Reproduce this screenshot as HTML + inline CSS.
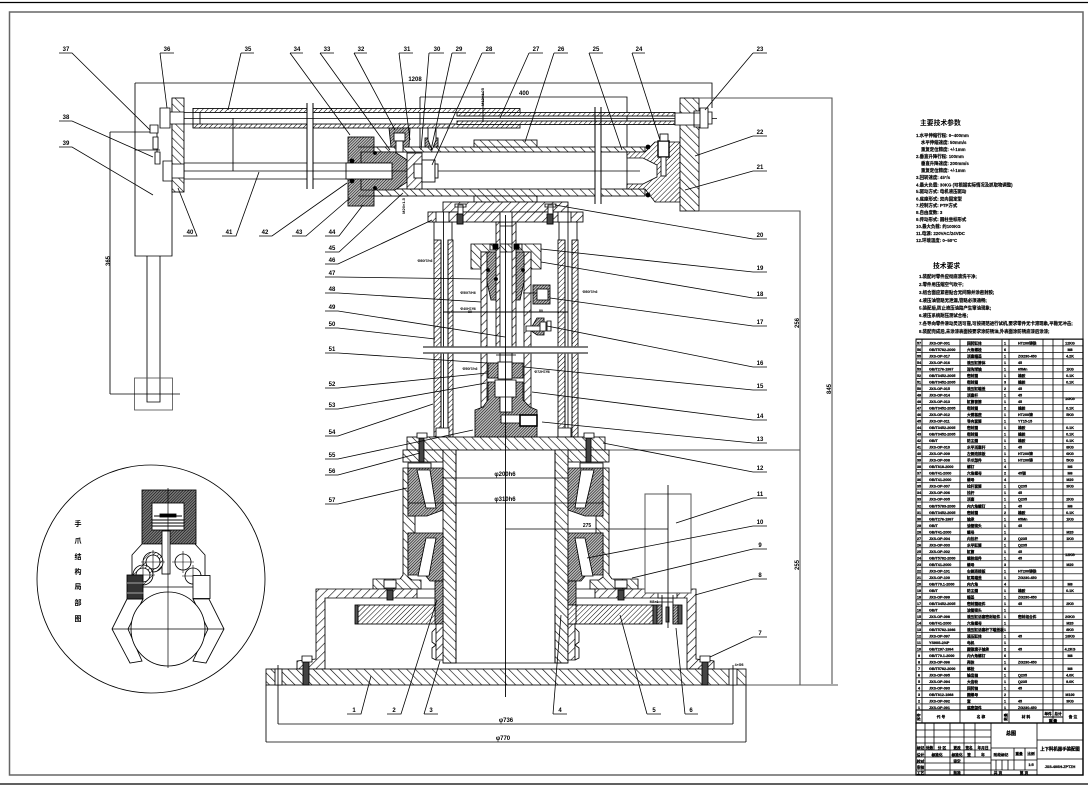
<!DOCTYPE html>
<html><head><meta charset="utf-8"><style>
html,body{margin:0;padding:0;background:#fff}
svg{display:block}
text{font-family:"Liberation Sans","Noto Sans CJK SC",sans-serif;font-weight:bold;fill:#000;stroke:none}
.l{font-size:6px;text-anchor:middle;font-family:"Liberation Sans Narrow","Liberation Sans",sans-serif}
.t{font-size:4.4px;stroke:#000;stroke-width:.15}
.b{font-size:3.7px;stroke:#000;stroke-width:.25}
.m{text-anchor:middle}
</style></head><body>
<svg width="1088" height="785" viewBox="0 0 1088 785" xmlns="http://www.w3.org/2000/svg">
<defs>
<pattern id="h1" patternUnits="userSpaceOnUse" width="6" height="6" patternTransform="rotate(45)"><rect width="6" height="6" fill="#fff"/><line x1="0" y1="0" x2="0" y2="6" stroke="#000" stroke-width="1.2"/></pattern>
<pattern id="h2" patternUnits="userSpaceOnUse" width="6" height="6" patternTransform="rotate(-45)"><rect width="6" height="6" fill="#fff"/><line x1="0" y1="0" x2="0" y2="6" stroke="#000" stroke-width="1.2"/></pattern>
<pattern id="h3" patternUnits="userSpaceOnUse" width="3.5" height="3.5" patternTransform="rotate(45)"><rect width="3.5" height="3.5" fill="#fff"/><line x1="0" y1="0" x2="0" y2="3.5" stroke="#000" stroke-width="1"/></pattern>
<pattern id="d1" patternUnits="userSpaceOnUse" width="2" height="2" patternTransform="rotate(45)"><rect width="2" height="2" fill="#bbb"/><line x1="0" y1="0" x2="0" y2="2" stroke="#000" stroke-width="1"/></pattern>
<pattern id="rows" patternUnits="userSpaceOnUse" x="916" y="339" width="167" height="6.51"><line x1="0" y1=".3" x2="167" y2=".3" stroke="#000" stroke-width=".8"/></pattern>
</defs>
<rect width="1088" height="785" fill="#fff"/>
<path d="M0 2.5H1088M0 784H1088" stroke="#000" stroke-width="1.3" fill="none"/>
<rect x="9.5" y="12" width="1073.5" height="763" fill="none" stroke="#666" stroke-width="1.5"/>

<g fill="none" stroke="#000" stroke-width=".85">
<!-- left block -->
<path d="M135 83V256H172V98M110 132H157M135 150H160M157 132V158" />
<path d="M147 256V402H160V256" />
<rect x="134.5" y="378" width="38" height="32" stroke="#555"/>
<path d="M110 132V394M110 394H180" />
<rect x="172" y="98" width="12" height="94" fill="url(#h2)"/>
<path d="M160 108h10v20h-10zM170 112h14v12h-14zM163 161h9v20h-9zM172 164h12v14h-12zM150 125h8v8h-8zM153 137h5v12h-5zM155 152h5v12h-5z" fill="#fff"/>
<path d="M135 83H712V108M420 97H627V190M420 97V152" />
<!-- upper tubes -->
<rect x="193" y="108.5" width="114" height="4" fill="url(#h3)"/>
<rect x="193" y="124" width="114" height="4" fill="url(#h3)"/>
<rect x="313" y="108.5" width="207" height="4" fill="url(#h3)"/>
<rect x="313" y="124" width="207" height="4" fill="url(#h3)"/>
<rect x="457" y="112.5" width="218" height="3.5" fill="url(#h3)"/>
<rect x="457" y="121" width="218" height="3.5" fill="url(#h3)"/>
<path d="M184 118.5H717M184 112.5H193M184 124H193M193 108V128M200 112V124M483 92V122M233 118V171" />
<!-- rod -->
<path d="M184 163H307M184 179H307M313 163H420M313 179H420" />
<path d="M307 103V189M313 103V189M595 107V204M601 107V204" stroke-width="1"/>
<!-- piston assembly -->
<rect x="348" y="137" width="26" height="69" fill="url(#d1)"/>
<path d="M358 147H374V152H407V147H358ZM358 196H374V189H407V196H358Z" fill="#fff"/>
<rect x="374" y="147" width="221" height="5" fill="url(#h2)"/>
<rect x="374" y="189" width="221" height="7" fill="url(#h2)"/>
<rect x="601" y="147" width="44" height="5" fill="url(#h2)"/>
<rect x="601" y="189" width="44" height="7" fill="url(#h2)"/>
<path d="M361 152H395L407 160V182L395 190H361V179H392V163H361Z" fill="url(#d1)"/>
<rect x="346" y="163" width="46" height="16" fill="#fff"/>
<path d="M184 171H640"/>
<circle cx="352" cy="161" r="2" fill="#000"/><circle cx="352" cy="181" r="2" fill="#000"/><circle cx="375" cy="153" r="1.5" fill="#000"/><circle cx="375" cy="188" r="1.5" fill="#000"/>
<rect x="407" y="153" width="15" height="36" fill="url(#h1)"/>
<rect x="414" y="164" width="8" height="14" fill="#fff"/>
<path d="M389 128H410L409 147H391Z" fill="url(#d1)"/>
<rect x="394" y="133" width="11" height="8" fill="#fff"/><rect x="396" y="141" width="7" height="11" fill="#fff"/>
<rect x="425" y="138" width="13" height="9" fill="url(#d1)"/>
<path d="M428 128h8v12l-4 10l-4-10z" fill="#fff"/>
<rect x="422" y="160" width="13" height="22" fill="#fff"/><rect x="435" y="164" width="3" height="14" fill="#fff"/>
<rect x="474" y="140" width="63" height="7" fill="url(#h2)"/>
<rect x="474" y="196" width="63" height="6" fill="url(#h2)"/>
<path d="M627 152H645L655 142H680V202H655L645 189H627V184H643L657 177V165L643 158H627Z" fill="url(#h3)"/>
<rect x="680" y="98" width="19" height="113" fill="url(#h2)"/>
<path d="M675 113h25v12h-25zM694 111h6v16h-6zM700 108h8v20h-8zM708 112h4v12h-4z" fill="#fff"/>
<rect x="658" y="141" width="11" height="16" fill="#fff" stroke-width="1.4"/><rect x="661" y="157" width="5" height="19" fill="#fff"/><rect x="660" y="134" width="8" height="7" fill="#fff"/>
<circle cx="648" cy="147" r="2" fill="#000"/><circle cx="648" cy="195" r="2" fill="#000"/>
<path d="M699 98H832V684M699 211H800V685M600 450H800M746 685H838" stroke="#555" stroke-width="1.1"/>
<!-- top plates -->
<rect x="443" y="202" width="125" height="10" fill="url(#h1)"/>
<rect x="428" y="212" width="155" height="10" fill="url(#h1)"/>
<path d="M436 212h13v10h-13zM558 212h13v10h-13zM500 212h12v10h-12zM458 205h5v19h-5zM548 205h5v19h-5zM455 204h11v3h-11zM545 204h11v3h-11z" fill="#fff"/>
<!-- columns -->
<path d="M434 222V240M452 222V240M559 222V240M577 222V240" />
<rect x="434" y="240" width="7" height="197" fill="url(#h3)"/>
<rect x="448" y="240" width="5" height="197" fill="url(#h3)"/>
<rect x="558" y="240" width="7" height="197" fill="url(#h3)"/>
<rect x="572" y="240" width="6" height="197" fill="url(#h3)"/>
<path d="M441 240V428M448 240V428M565 240V428M572 240V428M443.5 212V450M568 212V450" />
<path d="M436 428h13v9h-13zM558 428h13v9h-13zM439 437h9v12h-9zM564 437h9v12h-9z" fill="#fff"/>
<!-- sleeve -->
<path d="M471 244H541V269H531V252H481V269H471Z" fill="url(#h2)"/>
<rect x="481" y="252" width="6" height="155" fill="url(#h1)"/>
<rect x="524" y="252" width="7" height="155" fill="url(#h1)"/>
<path d="M487 252H496V300H491L487 282ZM516 252H524V282L520 300H516Z" fill="url(#d1)"/>
<rect x="496" y="222" width="4" height="125" fill="url(#h1)"/>
<rect x="512" y="222" width="4" height="125" fill="url(#h1)"/>
<path d="M500 226H512M490 244h6v6h-6zM516 244h6v6h-6z"/>
<rect x="493" y="244" width="5" height="5" fill="#000"/><rect x="514" y="244" width="5" height="5" fill="#000"/>
<circle cx="488" cy="270" r="1.5" fill="#000"/><circle cx="523" cy="270" r="1.5" fill="#000"/><circle cx="496" cy="279" r="1.5" fill="#000"/>
<rect x="533" y="285" width="17" height="19" fill="url(#d1)"/>
<rect x="537" y="289" width="11" height="11" fill="#fff"/>
<path d="M523 293H537M530 330L537 318H544V335H537Z" fill="url(#d1)"/>
<path d="M526 326h14v5h-14zM540 322h6v9h-6zM547 321h4v10h-4z" fill="#fff"/>
<path d="M443 312H568" stroke-width=".9"/>
<!-- lower piston -->
<rect x="423" y="347" width="165" height="6" fill="#fff" stroke="none"/>
<path d="M423 347H588M423 353H588" stroke="#555" stroke-width="1.4"/>
<path d="M496 355H516M500 353V378M512 353V378"/>
<rect x="488" y="363" width="35" height="15" fill="url(#d1)"/>
<rect x="498" y="362" width="14" height="17" fill="#fff"/>
<path d="M488 382H523V400L530 407L537 410V437H475V410L483 407L488 400Z" fill="url(#d1)"/>
<path d="M495 380h21v17h-21zM500 397h12v15h-12zM501 415h20v8h-20z" fill="#fff"/>
<rect x="520" y="415" width="17" height="11" fill="#fff" stroke-width="1.6"/>
<!-- bases -->
<rect x="407" y="437" width="198" height="13" fill="url(#h2)"/>
<rect x="403" y="450" width="40" height="12" fill="url(#h2)"/>
<rect x="568" y="450" width="41" height="12" fill="url(#h2)"/>
<path d="M443 450H456V663H443Z" fill="url(#h2)"/>
<path d="M555 450H568V663H555Z" fill="url(#h2)"/>
<path d="M443 663H568M456 450V663M555 450V663"/>
<path d="M403 468H408V516H415V533H408V577L412 580H421V589H373V579H400L403 575Z" fill="url(#h2)"/>
<path d="M609 468H603V516H596V533H603V577L599 580H590V589H638V579H612L609 575Z" fill="url(#h2)"/>
<path d="M408 468H443V510L427 516H408Z" fill="url(#d1)"/>
<path d="M408 533H443V581H430L425 575H408Z" fill="url(#d1)"/>
<path d="M568 468H603V516H585L568 510Z" fill="url(#d1)"/>
<path d="M568 533H603V575H586L581 581H568Z" fill="url(#d1)"/>
<path d="M417 470H430L436 508H426Z" fill="#fff"/>
<path d="M426 538H436L429 576H418Z" fill="#fff"/>
<path d="M581 470H594L585 508H575Z" fill="#fff"/>
<path d="M575 538H585L593 576H582Z" fill="#fff"/>
<path d="M408 463H431V468H408ZM580 463H603V468H580Z" fill="#fff"/>
<!-- housing -->
<path d="M316 589H417V598H325V669H297V661L316 659Z" fill="url(#h1)"/>
<path d="M595 589H696V659L714 661V669H687V598H595Z" fill="url(#h1)"/>
<rect x="658" y="589" width="19" height="9" fill="#fff"/>
<path d="M417 589H435M417 598H435M595 589H576M595 598H576"/>
<rect x="435" y="581" width="8" height="43" fill="url(#d1)"/>
<rect x="568" y="581" width="8" height="24" fill="url(#d1)"/>
<path d="M436 624H443V660H436ZM568 624H575V660H568Z" fill="url(#h1)"/>
<path d="M436 628L432 632V642L436 645L432 648V658L436 660M575 628L579 632V642L575 645L579 648V658L575 660"/>
<rect x="358" y="605" width="77" height="19" fill="url(#h3)"/>
<rect x="355" y="605" width="3" height="19" fill="#555"/>
<rect x="576" y="605" width="77" height="19" fill="url(#h3)"/>
<rect x="568" y="605" width="8" height="19" fill="url(#h3)"/>
<rect x="653" y="605" width="4" height="19" fill="#555"/>
<rect x="657" y="605" width="5" height="19" fill="url(#d1)"/>
<rect x="673" y="605" width="5" height="19" fill="url(#d1)"/>
<rect x="678" y="605" width="4" height="19" fill="#555"/>
<rect x="666" y="607" width="3" height="15" fill="#888"/>
<path d="M662 595V624M673 595V624M655 602H673"/>
<rect x="645" y="494" width="46" height="99" fill="#fff" stroke="#666" stroke-width="1.1"/>
<path d="M668 485V628" />
<rect x="266" y="669" width="480" height="16" fill="url(#h2)"/>
<path d="M275 669h7v16h-7zM729 669h8v16h-8z" fill="#fff"/>
<g fill="#444">
<rect x="303" y="662" width="6" height="23"/><rect x="702" y="662" width="6" height="23"/>
<rect x="387" y="590" width="6" height="10"/><rect x="618" y="590" width="6" height="10"/>
<rect x="419" y="438" width="5" height="24"/><rect x="586" y="438" width="5" height="24"/>
<rect x="457" y="214" width="6" height="10"/><rect x="547" y="214" width="6" height="10"/>
</g>
<path d="M302 656h10v6h-10zM700 656h10v6h-10zM384 580h12v8h-12zM615 580h12v8h-12zM417 433h10v5h-10zM584 433h10v5h-10z" fill="#fff"/>
<!-- dims -->
<path d="M443 478H568M408 503H603M505 529H668M278 724H733M266 742H746M278 665V724M733 665V724M266 685V742M746 685V742" />
<path d="M505.5 215V697" stroke-width=".9"/>

<!-- leaders -->
<path stroke-width=".8" d="M59 53H72L150 130M160 53H174M160 53L167 108M241 53H254M241 53L228 110M290 53H303M290 53L350 135M320 53H334M320 53L390 150M354 53H367M354 53L395 130M399 53H413M399 53L410 140M429 53H444M429 53L421 150M452 53H466M452 53L431 150M482 53H495M482 53L432 165M529 53H543M529 53L500 118M554 53H568M554 53L525 142M589 53H603M589 53L622 150M632 53H645M632 53L660 140M753 53H767M753 53L705 110
M753 136H767M753 136L695 156M753 171H767M753 171L685 190M753 239H767M753 239L555 205M753 272H767M753 272L541 249M753 298H767M753 298L541 262M753 326H767M753 326L550 298M753 367H767M753 367L547 326M753 390H767M753 390L524 367M753 420H767M753 420L532 392M753 443H767M753 443L542 422M753 472H767M753 472L603 443M753 498H767M753 498L676 523M753 526H767M753 526L587 558M753 549H767M753 549L632 578M753 579H767M753 579L695 595M753 637H767M753 637L710 657
M685 714H698M685 714L676 628M647 714H661M647 714L620 615M553 714H567M553 714L561 615M424 714H438M424 714L440 661M387 714H401L437 600M347 714H361L371 676
M183 236H197L178 188M222 236H236L259 172M259 236H272L347 183M292 236H306L350 198M325 236H339L363 205M325 252H339L403 193M325 264H338L432 220M325 277H338L481 279M325 293H338L481 302M325 311H338L505 337M325 328H338L435 339M325 353H338L487 363M325 388H338L487 373M325 409H338L486 383M325 436H338L433 404M325 459H338L473 430M325 475H338L420 453M325 504H338L407 488M59 121H72L153 157M59 147H72L153 195" />
</g>

<g class="labels">
<text class="l" x="66" y="51">37</text><text class="l" x="167" y="51">36</text><text class="l" x="248" y="51">35</text><text class="l" x="297" y="51">34</text><text class="l" x="327" y="51">33</text><text class="l" x="361" y="51">32</text><text class="l" x="407" y="51">31</text><text class="l" x="437" y="51">30</text><text class="l" x="459" y="51">29</text><text class="l" x="489" y="51">28</text><text class="l" x="536" y="51">27</text><text class="l" x="561" y="51">26</text><text class="l" x="596" y="51">25</text><text class="l" x="639" y="51">24</text><text class="l" x="760" y="51">23</text>
<text class="l" x="760" y="134">22</text><text class="l" x="760" y="169">21</text><text class="l" x="760" y="237">20</text><text class="l" x="760" y="270">19</text><text class="l" x="760" y="296">18</text><text class="l" x="760" y="324">17</text><text class="l" x="760" y="365">16</text><text class="l" x="760" y="388">15</text><text class="l" x="760" y="418">14</text><text class="l" x="760" y="441">13</text><text class="l" x="760" y="470">12</text><text class="l" x="760" y="496">11</text><text class="l" x="760" y="524">10</text><text class="l" x="760" y="547">9</text><text class="l" x="760" y="577">8</text><text class="l" x="760" y="635">7</text>
<text class="l" x="691" y="712">6</text><text class="l" x="654" y="712">5</text><text class="l" x="560" y="712">4</text><text class="l" x="431" y="712">3</text><text class="l" x="394" y="712">2</text><text class="l" x="354" y="712">1</text>
<text class="l" x="190" y="234">40</text><text class="l" x="229" y="234">41</text><text class="l" x="265" y="234">42</text><text class="l" x="299" y="234">43</text><text class="l" x="332" y="234">44</text><text class="l" x="332" y="250">45</text><text class="l" x="332" y="262">46</text><text class="l" x="332" y="275">47</text><text class="l" x="332" y="291">48</text><text class="l" x="332" y="309">49</text><text class="l" x="332" y="326">50</text><text class="l" x="332" y="351">51</text><text class="l" x="332" y="386">52</text><text class="l" x="332" y="407">53</text><text class="l" x="332" y="434">54</text><text class="l" x="332" y="457">55</text><text class="l" x="332" y="473">56</text><text class="l" x="332" y="502">57</text>
<text class="l" x="66" y="119">38</text><text class="l" x="66" y="145">39</text>
<text class="l" x="415" y="81">1208</text><text class="l" x="524" y="95">400</text>
<text class="l" x="505" y="476">φ200h6</text><text class="l" x="505" y="501">φ310h6</text><text class="l" x="587" y="527" style="font-size:5px">275</text>
<text class="l" x="506" y="722">φ736</text><text class="l" x="503" y="740">φ770</text>
<text class="l" transform="translate(110,261) rotate(-90)">365</text>
<text class="l" transform="translate(831,389) rotate(-90)">845</text>
<text class="l" transform="translate(799,323) rotate(-90)">256</text>
<text class="l" transform="translate(799,565) rotate(-90)">255</text>
<text class="l" transform="translate(484,97) rotate(-90)" style="font-size:4px">M12×1.25</text>
<text class="l" transform="translate(405,206) rotate(-90)" style="font-size:4px">M20×1.5</text>
<text class="l" x="425" y="262" style="font-size:3.5px">Φ80f7/h6</text><text class="l" x="590" y="293" style="font-size:3.5px">Φ80f7/h6</text><text class="l" x="468" y="294" style="font-size:3.5px">Φ50f7/H6</text><text class="l" x="468" y="310" style="font-size:3.5px">Φ40H7/f6</text><text class="l" x="470" y="370" style="font-size:3.5px">Φ50f7/h6</text><text class="l" x="542" y="373" style="font-size:3.5px">Φ72H7/f6</text><text class="l" x="541" y="312" style="font-size:3.5px">80</text><text class="l" x="470" y="313" style="font-size:3.5px">80</text><text class="l" x="739" y="666" style="font-size:3.5px">4×Φ8</text><text class="l" x="654" y="603" style="font-size:3.5px">M8×1</text>
</g>

<!-- detail circle -->
<g fill="none" stroke="#000" stroke-width=".85">
<circle cx="151" cy="579" r="114"/>
<rect x="142" y="490" width="54" height="54" fill="url(#d1)"/>
<rect x="142" y="490" width="54" height="54" fill="#000" fill-opacity=".35" stroke="none"/>
<rect x="152" y="503" width="32" height="27" fill="#fff"/>
<path d="M152 520H184M152 523H184M152 526H184M154 516H182" stroke-width="1.1"/>
<rect x="160" y="514" width="16" height="3" fill="#000"/>
<path d="M132 555L142 544H195L205 555V587H132Z" fill="#fff"/>
<rect x="162" y="531" width="8" height="43" fill="#fff"/>
<circle cx="153" cy="562" r="10" fill="url(#h3)"/><circle cx="153" cy="562" r="7" fill="#fff"/>
<circle cx="143" cy="575" r="10" fill="url(#h3)"/><circle cx="143" cy="575" r="7" fill="#fff"/>
<circle cx="183" cy="562" r="8" fill="#fff"/><circle cx="193" cy="576" r="8" fill="#fff"/>
<path d="M153 550V574M141 562H165M143 563V587M131 575H155M183 551V573M172 562H194M193 565V587M182 576H204" stroke-width=".6"/>
<rect x="193" y="575.500" width="17" height="23" fill="#fff"/>
<path d="M127 599L112 629L130 663L142 661L128 629L143 599Z" fill="#fff"/>
<path d="M193 599L209 599L224 629L206 663L193 661L208 629Z" fill="#fff"/>
<circle cx="168" cy="629" r="37" fill="#fff"/>
<path d="M112 629H224M168 488V668" stroke-width=".7"/>
<rect x="127" y="575" width="16" height="24" fill="#333"/>
<path d="M127 583H144M127 593H144" stroke="#ccc"/>
</g>
<g font-size="7">
<text x="78" y="526" class="m">手</text><text x="78" y="543" class="m">爪</text><text x="78" y="559" class="m">结</text><text x="78" y="574" class="m">构</text><text x="78" y="589" class="m">局</text><text x="78" y="605" class="m">部</text><text x="78" y="621" class="m">图</text>
</g>

<!-- notes -->
<text x="920" y="125" font-size="6.8" stroke="#000" stroke-width=".2">主要技术参数</text>
<g class="t">
<text class="t" x="916" y="137">1.水平伸缩行程: 0~400mm</text>
<text class="t" x="921" y="144">水平伸缩速度: 50mm/s</text>
<text class="t" x="921" y="151">重复定位精度: +/-1mm</text>
<text class="t" x="916" y="158">2.垂直升降行程: 100mm</text>
<text class="t" x="921" y="165">垂直升降速度: 200mm/s</text>
<text class="t" x="921" y="172">重复定位精度: +/-1mm</text>
<text class="t" x="916" y="179">3.回转速度: 45°/s</text>
<text class="t" x="916" y="186.500">4.最大负载: 30KG (可根据实际情况及抓取物调整)</text>
<text class="t" x="916" y="193">5.驱动方式: 电机液压驱动</text>
<text class="t" x="916" y="200.500">6.底座形式: 双向固定型</text>
<text class="t" x="916" y="207">7.控制方式: PTP方式</text>
<text class="t" x="916" y="214">8.自由度数: 3</text>
<text class="t" x="916" y="221">9.传动形式: 圆柱坐标形式</text>
<text class="t" x="916" y="228">10.最大负载: 约100KG</text>
<text class="t" x="916" y="235">11.电源: 220VAC/24VDC</text>
<text class="t" x="916" y="242">12.环境温度: 0~50°C</text>
</g>
<text x="933" y="268" font-size="6.8" stroke="#000" stroke-width=".2">技术要求</text>
<text class="t" x="919" y="278">1.装配时零件应彻底清洗干净;</text>
<text class="t" x="919" y="286">2.零件用压缩空气吹干;</text>
<text class="t" x="919" y="294">3.组合面应紧密贴合无间隙并涂密封胶;</text>
<text class="t" x="919" y="302">4.液压油管路无泄漏,管路必须通畅;</text>
<text class="t" x="919" y="309.500">5.装配后,防止液压油路产生窜油现象;</text>
<text class="t" x="919" y="317">6.液压系统耐压测试合格;</text>
<text class="t" x="919" y="325">7.各导向零件滑动灵活可靠,可按规范进行试机,要求零件无卡滞现象,平稳无冲击;</text>
<text class="t" x="919" y="333">8.装配完成后,未涂漆表面按要求涂防锈油,外表面涂防锈底漆后涂漆;</text>

<!-- BOM -->
<g stroke="#000" fill="none">
<rect x="916" y="339" width="167" height="371" fill="url(#rows)" stroke-width=".9"/>
<path d="M922 339V723M960 339V723M1002 339V723M1009 339V723M1043 339V723M1053 339V723M1063 339V723" stroke-width=".8"/>
<rect x="916" y="710" width="167" height="13" stroke-width="1.2"/>
<path d="M1043 717H1063"/>
<rect x="916" y="723" width="167" height="52" stroke-width="1.2"/>
<path d="M916 730H991M916 737H991M916 743H991M916 750H991M916 757H991M916 763H991M916 770H991M925 723V775M934 723V750M950 723V775M964 723V775M975 723V757M991 723V775M1037 723V775M991 748H1037M1037 740H1083M1037 759H1083M991 760H1037M991 770H1037M996 760V770M1002 760V770M1008 760V770M1014 748V770M1025 748V770" stroke-width=".8"/>
</g>
<g class="b">
<text class="b" x="919" y="344.500" text-anchor="middle">57</text><text class="b" x="929" y="344.500">JXS-OP-001</text><text class="b" x="967" y="344.500">回转缸体</text><text class="b" x="1005" y="344.500" text-anchor="middle">1</text><text class="b" x="1018" y="344.500">HT200铸铁</text><text class="b" x="1070" y="344.500" text-anchor="middle">12KG</text>
<text class="b" x="919" y="351" text-anchor="middle">56</text><text class="b" x="929" y="351">GB/T5782-2000</text><text class="b" x="967" y="351">六角螺栓</text><text class="b" x="1005" y="351" text-anchor="middle">6</text><text class="b" x="1070" y="351" text-anchor="middle">M8</text>
<text class="b" x="919" y="357.500" text-anchor="middle">55</text><text class="b" x="929" y="357.500">JXS-OP-017</text><text class="b" x="967" y="357.500">活塞端盖</text><text class="b" x="1005" y="357.500" text-anchor="middle">1</text><text class="b" x="1018" y="357.500">ZG230-450</text><text class="b" x="1070" y="357.500" text-anchor="middle">4.2K</text>
<text class="b" x="919" y="364" text-anchor="middle">54</text><text class="b" x="929" y="364">JXS-OP-016</text><text class="b" x="967" y="364">液压缸筒体</text><text class="b" x="1005" y="364" text-anchor="middle">1</text><text class="b" x="1018" y="364">45</text>
<text class="b" x="919" y="370.500" text-anchor="middle">53</text><text class="b" x="929" y="370.500">GB/T276-1997</text><text class="b" x="967" y="370.500">深沟球轴</text><text class="b" x="1005" y="370.500" text-anchor="middle">1</text><text class="b" x="1018" y="370.500">65Mn</text><text class="b" x="1070" y="370.500" text-anchor="middle">1KG</text>
<text class="b" x="919" y="377" text-anchor="middle">52</text><text class="b" x="929" y="377">GB/T3452-2005</text><text class="b" x="967" y="377">密封圈</text><text class="b" x="1005" y="377" text-anchor="middle">1</text><text class="b" x="1018" y="377">橡胶</text><text class="b" x="1070" y="377" text-anchor="middle">0.1K</text>
<text class="b" x="919" y="383.600" text-anchor="middle">51</text><text class="b" x="929" y="383.600">GB/T3452-2005</text><text class="b" x="967" y="383.600">密封圈</text><text class="b" x="1005" y="383.600" text-anchor="middle">3</text><text class="b" x="1018" y="383.600">橡胶</text><text class="b" x="1070" y="383.600" text-anchor="middle">0.1K</text>
<text class="b" x="919" y="390.100" text-anchor="middle">50</text><text class="b" x="929" y="390.100">JXS-OP-015</text><text class="b" x="967" y="390.100">液压缸端盖</text><text class="b" x="1005" y="390.100" text-anchor="middle">2</text><text class="b" x="1018" y="390.100">45</text>
<text class="b" x="919" y="396.600" text-anchor="middle">49</text><text class="b" x="929" y="396.600">JXS-OP-014</text><text class="b" x="967" y="396.600">活塞杆</text><text class="b" x="1005" y="396.600" text-anchor="middle">1</text><text class="b" x="1018" y="396.600">45</text><text class="b" x="1070" y="400" text-anchor="middle">10KG</text>
<text class="b" x="919" y="403.100" text-anchor="middle">48</text><text class="b" x="929" y="403.100">JXS-OP-013</text><text class="b" x="967" y="403.100">缸筒套筒</text><text class="b" x="1005" y="403.100" text-anchor="middle">1</text><text class="b" x="1018" y="403.100">45</text>
<text class="b" x="919" y="409.600" text-anchor="middle">47</text><text class="b" x="929" y="409.600">GB/T3452-2005</text><text class="b" x="967" y="409.600">密封圈</text><text class="b" x="1005" y="409.600" text-anchor="middle">2</text><text class="b" x="1018" y="409.600">橡胶</text><text class="b" x="1070" y="409.600" text-anchor="middle">0.1K</text>
<text class="b" x="919" y="416.100" text-anchor="middle">46</text><text class="b" x="929" y="416.100">JXS-OP-012</text><text class="b" x="967" y="416.100">大臂基座</text><text class="b" x="1005" y="416.100" text-anchor="middle">1</text><text class="b" x="1018" y="416.100">HT200铸</text><text class="b" x="1070" y="416.100" text-anchor="middle">5KG</text>
<text class="b" x="919" y="422.600" text-anchor="middle">45</text><text class="b" x="929" y="422.600">JXS-OP-011</text><text class="b" x="967" y="422.600">导向套筒</text><text class="b" x="1005" y="422.600" text-anchor="middle">1</text><text class="b" x="1018" y="422.600">YT15-15</text>
<text class="b" x="919" y="429.100" text-anchor="middle">44</text><text class="b" x="929" y="429.100">GB/T3452-2005</text><text class="b" x="967" y="429.100">密封圈</text><text class="b" x="1005" y="429.100" text-anchor="middle">1</text><text class="b" x="1018" y="429.100">橡胶</text><text class="b" x="1070" y="429.100" text-anchor="middle">0.1K</text>
<text class="b" x="919" y="435.600" text-anchor="middle">43</text><text class="b" x="929" y="435.600">GB/T3452-2005</text><text class="b" x="967" y="435.600">密封圈</text><text class="b" x="1005" y="435.600" text-anchor="middle">1</text><text class="b" x="1018" y="435.600">橡胶</text><text class="b" x="1070" y="435.600" text-anchor="middle">0.1K</text>
<text class="b" x="919" y="442.200" text-anchor="middle">42</text><text class="b" x="929" y="442.200">GB/T</text><text class="b" x="967" y="442.200">防尘圈</text><text class="b" x="1005" y="442.200" text-anchor="middle">1</text><text class="b" x="1018" y="442.200">橡胶</text><text class="b" x="1070" y="442.200" text-anchor="middle">0.1K</text>
<text class="b" x="919" y="448.700" text-anchor="middle">41</text><text class="b" x="929" y="448.700">JXS-OP-010</text><text class="b" x="967" y="448.700">水平活塞杆</text><text class="b" x="1005" y="448.700" text-anchor="middle">1</text><text class="b" x="1018" y="448.700">45</text><text class="b" x="1070" y="448.700" text-anchor="middle">8KG</text>
<text class="b" x="919" y="455.200" text-anchor="middle">40</text><text class="b" x="929" y="455.200">JXS-OP-009</text><text class="b" x="967" y="455.200">左侧连接板</text><text class="b" x="1005" y="455.200" text-anchor="middle">1</text><text class="b" x="1018" y="455.200">HT200铸</text><text class="b" x="1070" y="455.200" text-anchor="middle">6KG</text>
<text class="b" x="919" y="461.700" text-anchor="middle">39</text><text class="b" x="929" y="461.700">JXS-OP-008</text><text class="b" x="967" y="461.700">手爪部件</text><text class="b" x="1005" y="461.700" text-anchor="middle">1</text><text class="b" x="1018" y="461.700">HT200铸</text><text class="b" x="1070" y="461.700" text-anchor="middle">5KG</text>
<text class="b" x="919" y="468.200" text-anchor="middle">38</text><text class="b" x="929" y="468.200">GB/T818-2000</text><text class="b" x="967" y="468.200">螺钉</text><text class="b" x="1005" y="468.200" text-anchor="middle">4</text><text class="b" x="1070" y="468.200" text-anchor="middle">M6</text>
<text class="b" x="919" y="474.700" text-anchor="middle">37</text><text class="b" x="929" y="474.700">GB/T41-2000</text><text class="b" x="967" y="474.700">六角螺母</text><text class="b" x="1005" y="474.700" text-anchor="middle">2</text><text class="b" x="1018" y="474.700">45钢</text><text class="b" x="1070" y="474.700" text-anchor="middle">M6</text>
<text class="b" x="919" y="481.200" text-anchor="middle">36</text><text class="b" x="929" y="481.200">GB/T41-2000</text><text class="b" x="967" y="481.200">螺母</text><text class="b" x="1005" y="481.200" text-anchor="middle">4</text><text class="b" x="1070" y="481.200" text-anchor="middle">M20</text>
<text class="b" x="919" y="487.700" text-anchor="middle">35</text><text class="b" x="929" y="487.700">JXS-OP-007</text><text class="b" x="967" y="487.700">拉杆套筒</text><text class="b" x="1005" y="487.700" text-anchor="middle">1</text><text class="b" x="1018" y="487.700">Q235</text><text class="b" x="1070" y="487.700" text-anchor="middle">3KG</text>
<text class="b" x="919" y="494.200" text-anchor="middle">34</text><text class="b" x="929" y="494.200">JXS-OP-006</text><text class="b" x="967" y="494.200">拉杆</text><text class="b" x="1005" y="494.200" text-anchor="middle">1</text><text class="b" x="1018" y="494.200">45</text>
<text class="b" x="919" y="500.700" text-anchor="middle">33</text><text class="b" x="929" y="500.700">JXS-OP-005</text><text class="b" x="967" y="500.700">活塞</text><text class="b" x="1005" y="500.700" text-anchor="middle">1</text><text class="b" x="1018" y="500.700">Q235</text><text class="b" x="1070" y="500.700" text-anchor="middle">2KG</text>
<text class="b" x="919" y="507.300" text-anchor="middle">32</text><text class="b" x="929" y="507.300">GB/T5783-2000</text><text class="b" x="967" y="507.300">内六角螺钉</text><text class="b" x="1005" y="507.300" text-anchor="middle">1</text><text class="b" x="1018" y="507.300">45</text><text class="b" x="1070" y="507.300" text-anchor="middle">M6</text>
<text class="b" x="919" y="513.800" text-anchor="middle">31</text><text class="b" x="929" y="513.800">GB/T3452-2005</text><text class="b" x="967" y="513.800">密封圈</text><text class="b" x="1005" y="513.800" text-anchor="middle">2</text><text class="b" x="1018" y="513.800">橡胶</text><text class="b" x="1070" y="513.800" text-anchor="middle">0.1K</text>
<text class="b" x="919" y="520.300" text-anchor="middle">30</text><text class="b" x="929" y="520.300">GB/T276-1997</text><text class="b" x="967" y="520.300">轴承</text><text class="b" x="1005" y="520.300" text-anchor="middle">1</text><text class="b" x="1018" y="520.300">65Mn</text><text class="b" x="1070" y="520.300" text-anchor="middle">1KG</text>
<text class="b" x="919" y="526.800" text-anchor="middle">29</text><text class="b" x="929" y="526.800">GB/T</text><text class="b" x="967" y="526.800">油管接头</text><text class="b" x="1005" y="526.800" text-anchor="middle">1</text><text class="b" x="1018" y="526.800">45</text>
<text class="b" x="919" y="533.300" text-anchor="middle">28</text><text class="b" x="929" y="533.300">GB/T41-2000</text><text class="b" x="967" y="533.300">螺母</text><text class="b" x="1005" y="533.300" text-anchor="middle">1</text><text class="b" x="1070" y="533.300" text-anchor="middle">M20</text>
<text class="b" x="919" y="539.800" text-anchor="middle">27</text><text class="b" x="929" y="539.800">JXS-OP-004</text><text class="b" x="967" y="539.800">内拉杆</text><text class="b" x="1005" y="539.800" text-anchor="middle">2</text><text class="b" x="1018" y="539.800">Q235</text><text class="b" x="1070" y="539.800" text-anchor="middle">1KG</text>
<text class="b" x="919" y="546.300" text-anchor="middle">26</text><text class="b" x="929" y="546.300">JXS-OP-003</text><text class="b" x="967" y="546.300">水平缸筒</text><text class="b" x="1005" y="546.300" text-anchor="middle">1</text><text class="b" x="1018" y="546.300">Q235</text>
<text class="b" x="919" y="552.800" text-anchor="middle">25</text><text class="b" x="929" y="552.800">JXS-OP-002</text><text class="b" x="967" y="552.800">缸筒</text><text class="b" x="1005" y="552.800" text-anchor="middle">1</text><text class="b" x="1018" y="552.800">45</text>
<text class="b" x="919" y="559.300" text-anchor="middle">24</text><text class="b" x="929" y="559.300">GB/T5782-2000</text><text class="b" x="967" y="559.300">螺栓组件</text><text class="b" x="1005" y="559.300" text-anchor="middle">1</text><text class="b" x="1018" y="559.300">45</text><text class="b" x="1070" y="556" text-anchor="middle">12KG</text>
<text class="b" x="919" y="565.800" text-anchor="middle">23</text><text class="b" x="929" y="565.800">GB/T41-2000</text><text class="b" x="967" y="565.800">螺母</text><text class="b" x="1005" y="565.800" text-anchor="middle">3</text><text class="b" x="1070" y="565.800" text-anchor="middle">M20</text>
<text class="b" x="919" y="572.400" text-anchor="middle">22</text><text class="b" x="929" y="572.400">JXS-OP-101</text><text class="b" x="967" y="572.400">右侧连接板</text><text class="b" x="1005" y="572.400" text-anchor="middle">1</text><text class="b" x="1018" y="572.400">HT200铸铁</text>
<text class="b" x="919" y="578.900" text-anchor="middle">21</text><text class="b" x="929" y="578.900">JXS-OP-100</text><text class="b" x="967" y="578.900">缸尾端盖</text><text class="b" x="1005" y="578.900" text-anchor="middle">1</text><text class="b" x="1018" y="578.900">ZG230-450</text>
<text class="b" x="919" y="585.400" text-anchor="middle">20</text><text class="b" x="929" y="585.400">GB/T70.1-2000</text><text class="b" x="967" y="585.400">内六角</text><text class="b" x="1005" y="585.400" text-anchor="middle">4</text><text class="b" x="1070" y="585.400" text-anchor="middle">M8</text>
<text class="b" x="919" y="591.900" text-anchor="middle">19</text><text class="b" x="929" y="591.900">GB/T</text><text class="b" x="967" y="591.900">防尘圈</text><text class="b" x="1005" y="591.900" text-anchor="middle">1</text><text class="b" x="1018" y="591.900">橡胶</text><text class="b" x="1070" y="591.900" text-anchor="middle">0.1K</text>
<text class="b" x="919" y="598.400" text-anchor="middle">18</text><text class="b" x="929" y="598.400">JXS-OP-099</text><text class="b" x="967" y="598.400">端盖</text><text class="b" x="1005" y="598.400" text-anchor="middle">1</text><text class="b" x="1018" y="598.400">ZG230-450</text>
<text class="b" x="919" y="604.900" text-anchor="middle">17</text><text class="b" x="929" y="604.900">GB/T3452-2005</text><text class="b" x="967" y="604.900">密封圈组件</text><text class="b" x="1005" y="604.900" text-anchor="middle">1</text><text class="b" x="1018" y="604.900">45</text><text class="b" x="1070" y="604.900" text-anchor="middle">2KG</text>
<text class="b" x="919" y="611.400" text-anchor="middle">16</text><text class="b" x="929" y="611.400">GB/T</text><text class="b" x="967" y="611.400">油管接头</text><text class="b" x="1005" y="611.400" text-anchor="middle">1</text>
<text class="b" x="919" y="617.900" text-anchor="middle">15</text><text class="b" x="929" y="617.900">JXS-OP-098</text><text class="b" x="967" y="617.900">液压缸活塞密封组件</text><text class="b" x="1005" y="617.900" text-anchor="middle">1</text><text class="b" x="1018" y="617.900">密封组合件</text><text class="b" x="1070" y="617.900" text-anchor="middle">20KG</text>
<text class="b" x="919" y="624.400" text-anchor="middle">14</text><text class="b" x="929" y="624.400">GB/T41-2000</text><text class="b" x="967" y="624.400">六角螺母</text><text class="b" x="1005" y="624.400" text-anchor="middle">1</text><text class="b" x="1070" y="624.400" text-anchor="middle">M20</text>
<text class="b" x="919" y="630.900" text-anchor="middle">13</text><text class="b" x="929" y="630.900">GB/T5782-1986</text><text class="b" x="967" y="630.900">液压缸活塞杆下端盖板</text><text class="b" x="1005" y="630.900" text-anchor="middle">1</text><text class="b" x="1070" y="630.900" text-anchor="middle">8KG</text>
<text class="b" x="919" y="637.500" text-anchor="middle">12</text><text class="b" x="929" y="637.500">JXS-OP-097</text><text class="b" x="967" y="637.500">液压缸体</text><text class="b" x="1005" y="637.500" text-anchor="middle">1</text><text class="b" x="1018" y="637.500">45</text><text class="b" x="1070" y="637.500" text-anchor="middle">18KG</text>
<text class="b" x="919" y="644" text-anchor="middle">11</text><text class="b" x="929" y="644">YS90S-2/4P</text><text class="b" x="967" y="644">电机</text><text class="b" x="1005" y="644" text-anchor="middle">1</text>
<text class="b" x="919" y="650.500" text-anchor="middle">10</text><text class="b" x="929" y="650.500">GB/T297-1994</text><text class="b" x="967" y="650.500">圆锥滚子轴承</text><text class="b" x="1005" y="650.500" text-anchor="middle">2</text><text class="b" x="1018" y="650.500">45</text><text class="b" x="1070" y="650.500" text-anchor="middle">4.2KG</text>
<text class="b" x="919" y="657" text-anchor="middle">9</text><text class="b" x="929" y="657">GB/T70.1-2000</text><text class="b" x="967" y="657">内六角螺钉</text><text class="b" x="1005" y="657" text-anchor="middle">6</text><text class="b" x="1070" y="657" text-anchor="middle">M8</text>
<text class="b" x="919" y="663.500" text-anchor="middle">8</text><text class="b" x="929" y="663.500">JXS-OP-096</text><text class="b" x="967" y="663.500">壳体</text><text class="b" x="1005" y="663.500" text-anchor="middle">1</text><text class="b" x="1018" y="663.500">ZG230-450</text>
<text class="b" x="919" y="670" text-anchor="middle">7</text><text class="b" x="929" y="670">GB/T5782-2000</text><text class="b" x="967" y="670">螺栓</text><text class="b" x="1005" y="670" text-anchor="middle">6</text><text class="b" x="1070" y="670" text-anchor="middle">M8</text>
<text class="b" x="919" y="676.500" text-anchor="middle">6</text><text class="b" x="929" y="676.500">JXS-OP-095</text><text class="b" x="967" y="676.500">输出轴</text><text class="b" x="1005" y="676.500" text-anchor="middle">1</text><text class="b" x="1018" y="676.500">Q235</text><text class="b" x="1070" y="676.500" text-anchor="middle">4.0K</text>
<text class="b" x="919" y="683" text-anchor="middle">5</text><text class="b" x="929" y="683">JXS-OP-094</text><text class="b" x="967" y="683">大齿轮</text><text class="b" x="1005" y="683" text-anchor="middle">1</text><text class="b" x="1018" y="683">Q235</text><text class="b" x="1070" y="683" text-anchor="middle">9.0K</text>
<text class="b" x="919" y="689.500" text-anchor="middle">4</text><text class="b" x="929" y="689.500">JXS-OP-093</text><text class="b" x="967" y="689.500">回转轴</text><text class="b" x="1005" y="689.500" text-anchor="middle">1</text><text class="b" x="1018" y="689.500">45</text>
<text class="b" x="919" y="696" text-anchor="middle">3</text><text class="b" x="929" y="696">GB/T812-1988</text><text class="b" x="967" y="696">圆螺母</text><text class="b" x="1005" y="696" text-anchor="middle">2</text><text class="b" x="1070" y="696" text-anchor="middle">M100</text>
<text class="b" x="919" y="702.600" text-anchor="middle">2</text><text class="b" x="929" y="702.600">JXS-OP-092</text><text class="b" x="967" y="702.600">套</text><text class="b" x="1005" y="702.600" text-anchor="middle">1</text><text class="b" x="1018" y="702.600">45</text><text class="b" x="1070" y="702.600" text-anchor="middle">3KG</text>
<text class="b" x="919" y="709" text-anchor="middle">1</text><text class="b" x="929" y="709">JXS-OP-091</text><text class="b" x="967" y="709">底座部件</text><text class="b" x="1005" y="709" text-anchor="middle">1</text><text class="b" x="1018" y="709">ZG230-450</text>
<text class="b" x="941" y="718" text-anchor="middle">代 号</text><text class="b" x="981" y="718" text-anchor="middle">名 称</text><text class="b" x="1026" y="718" text-anchor="middle">材 料</text><text class="b" x="1048" y="715" text-anchor="middle">单件</text><text class="b" x="1058" y="715" text-anchor="middle">总计</text><text class="b" x="1053" y="722" text-anchor="middle">重 量</text><text class="b" x="1073" y="718" text-anchor="middle">备 注</text>
<text class="b" transform="translate(920,717) rotate(-90)" text-anchor="middle">序号</text><text class="b" transform="translate(1007,717) rotate(-90)" text-anchor="middle">数量</text>
<text class="b" x="1011" y="735" text-anchor="middle" style="font-size:5px">总图</text>
<text class="b" x="920.500" y="749" text-anchor="middle">标记</text><text class="b" x="929.500" y="749" text-anchor="middle">处数</text><text class="b" x="942" y="749" text-anchor="middle">分 区</text><text class="b" x="957" y="749" text-anchor="middle">更改</text><text class="b" x="969" y="749" text-anchor="middle">签名</text><text class="b" x="983" y="749" text-anchor="middle">年月日</text>
<text class="b" x="920.500" y="756" text-anchor="middle">设计</text><text class="b" x="937" y="756" text-anchor="middle">标准化</text><text class="b" x="957" y="756" text-anchor="middle">标准化</text><text class="b" x="969" y="756" text-anchor="middle">签</text><text class="b" x="983" y="756" text-anchor="middle">年</text>
<text class="b" x="920.500" y="762.500" text-anchor="middle">校对</text><text class="b" x="957" y="762.500" text-anchor="middle">审定</text>
<text class="b" x="920.500" y="768.500" text-anchor="middle">审核</text>
<text class="b" x="920.500" y="774" text-anchor="middle">工艺</text><text class="b" x="957" y="774" text-anchor="middle">批准</text>
<text class="b" x="1001" y="756" text-anchor="middle">阶段标记</text><text class="b" x="1019" y="755" text-anchor="middle">重量</text><text class="b" x="1031" y="755" text-anchor="middle">比例</text><text class="b" x="1031" y="766" text-anchor="middle">1:5</text>
<text class="b" x="998" y="774" text-anchor="middle">共 页</text><text class="b" x="1024" y="774" text-anchor="middle">第 页</text>
<text class="b" x="1060" y="750.500" text-anchor="middle" style="font-size:4.4px">上下料机器手装配图</text>
<text class="b" x="1060" y="768" text-anchor="middle">JXS-40SH-ZPTZH</text>
</g>
</svg>
</body></html>
